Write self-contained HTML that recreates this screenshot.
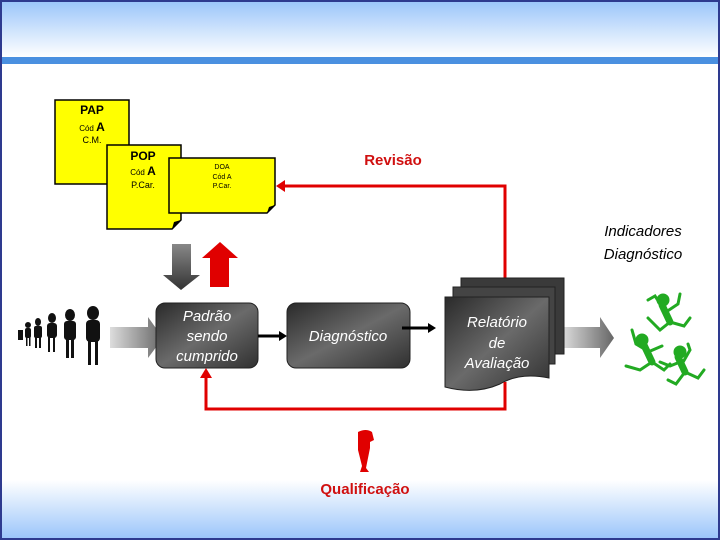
<!DOCTYPE html>
<html><head><meta charset="utf-8"><style>
html,body{margin:0;padding:0;background:#fff}
svg{display:block}
text{font-family:"Liberation Sans",sans-serif}
</style></head><body>
<svg width="720" height="540" viewBox="0 0 720 540" xmlns="http://www.w3.org/2000/svg">
<defs>
<linearGradient id="hd" x1="0" y1="0" x2="0" y2="1"><stop offset="0" stop-color="#9cc6fa"/><stop offset="1" stop-color="#ffffff"/></linearGradient>
<linearGradient id="ft" x1="0" y1="0" x2="0" y2="1"><stop offset="0" stop-color="#ffffff"/><stop offset="1" stop-color="#9cc6fa"/></linearGradient>
<linearGradient id="bx" x1="0" y1="0" x2="1" y2="1"><stop offset="0" stop-color="#2a2a2a"/><stop offset="0.5" stop-color="#6a6a6a"/><stop offset="1" stop-color="#303030"/></linearGradient>
<linearGradient id="ga" x1="0" y1="0" x2="0" y2="1"><stop offset="0" stop-color="#888"/><stop offset="1" stop-color="#333"/></linearGradient>
<linearGradient id="ar" x1="0" y1="0" x2="1" y2="0"><stop offset="0" stop-color="#ddd"/><stop offset="1" stop-color="#666"/></linearGradient>
</defs>
<rect x="0" y="0" width="720" height="540" fill="#2e3a8f"/>
<rect x="2" y="2" width="716" height="536" fill="#fff"/>
<rect x="2" y="2" width="716" height="55" fill="url(#hd)"/>
<rect x="2" y="57" width="716" height="7" fill="#4a90e0"/>
<rect x="2" y="480" width="716" height="58" fill="url(#ft)"/>

<!-- documents -->
<g stroke="#000" stroke-width="1.5" fill="#ffff00">
<path d="M55 100H129V184H55Z"/>
<path d="M107 145H181V220L172 229H107Z"/>
<path d="M169 158H275V205L267 213H169Z"/>
</g>
<path d="M172 229L181 220L174 222Z" fill="#000"/>
<path d="M267 213L275 205L269 207Z" fill="#000"/>
<g text-anchor="middle" fill="#000">
<text x="92" y="114" font-size="12" font-weight="bold">PAP</text>
<text x="92" y="131" font-size="8">Cód <tspan font-size="12" font-weight="bold">A</tspan></text>
<text x="92" y="143" font-size="9">C.M.</text>
<text x="143" y="160" font-size="12" font-weight="bold">POP</text>
<text x="143" y="175" font-size="8">Cód <tspan font-size="12" font-weight="bold">A</tspan></text>
<text x="143" y="188" font-size="9">P.Car.</text>
<text x="222" y="169" font-size="7">DOA</text>
<text x="222" y="179" font-size="7">Cód A</text>
<text x="222" y="188" font-size="7">P.Car.</text>
</g>

<!-- red revision loop -->
<path d="M505 278V186H282" fill="none" stroke="#e00000" stroke-width="3"/>
<path d="M276 186L285 180V192Z" fill="#e00000"/>
<text x="393" y="165" font-size="15" font-weight="bold" fill="#d01010" text-anchor="middle">Revisão</text>
<text x="643" y="236" font-size="15" font-style="italic" text-anchor="middle">Indicadores</text>
<text x="643" y="259" font-size="15" font-style="italic" text-anchor="middle">Diagnóstico</text>

<!-- up/down arrows -->
<path d="M172 244H191V275H200L181 290L163 275H172Z" fill="url(#ga)"/>
<path d="M210 287V258H202L220 242L238 258H229V287Z" fill="#e00000"/>

<!-- left big arrow -->
<path d="M110 327H148V317L163 338L148 358V348H110Z" fill="url(#ar)"/>
<!-- right big arrow -->
<path d="M562 327H600V317L614 338L600 358V348H562Z" fill="url(#ar)"/>

<!-- boxes -->
<rect x="156" y="303" width="102" height="65" rx="9" fill="url(#bx)" stroke="#222"/>
<rect x="287" y="303" width="123" height="65" rx="9" fill="url(#bx)" stroke="#222"/>
<path d="M258 336H280" stroke="#000" stroke-width="3"/><path d="M287 336L279 331V341Z"/>
<path d="M402 328H428" stroke="#000" stroke-width="3"/><path d="M436 328L428 323V333Z"/>
<g fill="#fff" font-size="15" font-style="italic" text-anchor="middle">
<text x="207" y="321">Padrão</text>
<text x="207" y="341">sendo</text>
<text x="207" y="361">cumprido</text>
<text x="348" y="341">Diagnóstico</text>
</g>

<!-- report stack -->
<path d="M461 278H564V354H461Z" fill="#3a3a3a" stroke="#222"/>
<path d="M453 287H555V364H453Z" fill="#444" stroke="#222"/>
<path d="M445 297H549V378Q520 372 500 384Q475 395 445 387Z" fill="url(#bx)" stroke="#222"/>
<g fill="#fff" font-size="15" font-style="italic" text-anchor="middle">
<text x="497" y="327">Relatório</text>
<text x="497" y="348">de</text>
<text x="497" y="368">Avaliação</text>
</g>

<!-- bottom red loop -->
<path d="M505 382V409H206V376" fill="none" stroke="#e00000" stroke-width="3"/>
<path d="M206 368L200 378H212Z" fill="#e00000"/>

<!-- red person -->
<path d="M358 432Q366 428 372 432L374 440L370 442V448L366 468L369 472H360L362 466L358 450Z" fill="#e00000"/>
<text x="365" y="494" font-size="15" font-weight="bold" fill="#d01010" text-anchor="middle">Qualificação</text>

<!-- black people -->
<g fill="#111">
<ellipse cx="93" cy="313" rx="6" ry="7"/><rect x="86" y="320" width="14" height="22" rx="4"/><rect x="88" y="340" width="3" height="25"/><rect x="95" y="340" width="3" height="25"/>
<ellipse cx="70" cy="315" rx="5" ry="6"/><rect x="64" y="321" width="12" height="19" rx="3"/><rect x="66" y="338" width="3" height="20"/><rect x="71" y="338" width="3" height="20"/>
<ellipse cx="52" cy="318" rx="4" ry="5"/><rect x="47" y="323" width="10" height="15" rx="3"/><rect x="48" y="336" width="2" height="16"/><rect x="53" y="336" width="2" height="16"/>
<ellipse cx="38" cy="322" rx="3" ry="4"/><rect x="34" y="326" width="8" height="12" rx="2"/><rect x="35" y="336" width="2" height="12"/><rect x="39" y="336" width="2" height="12"/>
<ellipse cx="28" cy="325" rx="3" ry="3"/><rect x="25" y="328" width="6" height="10" rx="2"/><rect x="26" y="336" width="1.5" height="10"/><rect x="29" y="336" width="1.5" height="10"/>
<rect x="18" y="330" width="5" height="10"/>
</g>

<!-- green jumping figures -->
<g stroke="#22aa22" stroke-width="3" fill="#22aa22" stroke-linecap="round">
<circle cx="663" cy="300" r="5"/><path d="M662 305L670 322" stroke-width="7"/><path d="M664 310L655 296L648 300M666 312L678 304L680 294M670 322L660 330L648 318M670 322L684 326L690 318" fill="none"/>
<circle cx="642" cy="340" r="5"/><path d="M644 345L652 362" stroke-width="7"/><path d="M646 350L636 344L632 330M648 352L662 346M652 362L640 370L626 366M652 362L664 370L670 364" fill="none"/>
<circle cx="680" cy="352" r="5"/><path d="M678 357L685 372" stroke-width="7"/><path d="M680 362L670 366L660 362M682 364L690 350L688 344M685 372L676 384L668 380M685 372L698 378L704 370" fill="none"/>
</g>
</svg>
</body></html>
